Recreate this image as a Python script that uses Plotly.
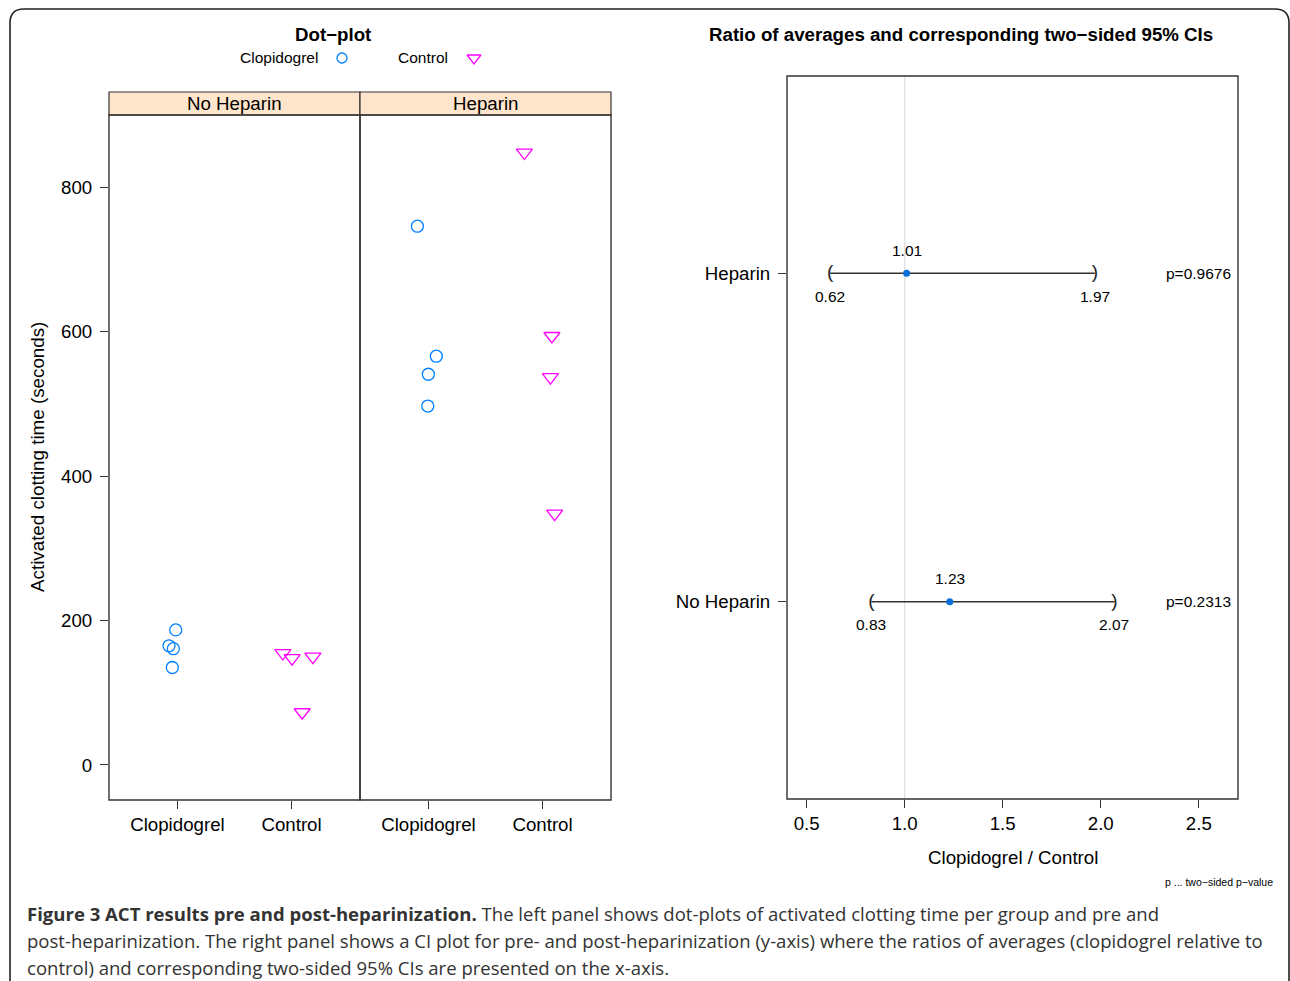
import plotly.graph_objects as go

W, H = 1290, 981

# ---------------- data ----------------
groups = ["Clopidogrel", "Control"]
panels = ["No Heparin", "Heparin"]
y_ticks = [0, 200, 400, 600, 800]

# activated clotting time (seconds) and jittered group positions
nohep_clop_act = [187, 165, 161, 135]
nohep_clop_pos = [0.985, 0.926, 0.964, 0.955]
nohep_ctrl_act = [155, 148, 150, 73]
nohep_ctrl_pos = [1.924, 2.005, 2.187, 2.093]
hep_clop_act = [746, 566, 541, 497]
hep_clop_pos = [0.903, 1.069, 0.999, 0.994]
hep_ctrl_act = [848, 594, 537, 348]
hep_ctrl_pos = [1.841, 2.082, 2.069, 2.106]

ci_rows = ["No Heparin", "Heparin"]
ci_est = [1.23, 1.01]
ci_low = [0.83, 0.62]
ci_up = [2.07, 1.97]
ci_p = ["0.2313", "0.9676"]
x3_ticks = [0.5, 1.0, 1.5, 2.0, 2.5]

# ---------------- styling ----------------
FONT = "Liberation Sans"
BLUE = "#0080ff"
MAG = "#ff00ff"
LINE = "#333333"


def px(x):
    return x / W


def py(y):
    return 1 - y / H


fig = go.Figure()

circ = dict(symbol="circle-open", size=12, color=BLUE, line=dict(width=1.3, color=BLUE))
tri = dict(symbol="triangle-down-open", size=14, color=MAG, line=dict(width=1.3, color=MAG))

fig.add_trace(go.Scatter(x=nohep_clop_pos, y=nohep_clop_act, mode="markers", marker=circ,
                         xaxis="x", yaxis="y", showlegend=False))
fig.add_trace(go.Scatter(x=nohep_ctrl_pos, y=nohep_ctrl_act, mode="markers", marker=tri,
                         xaxis="x", yaxis="y", showlegend=False))
fig.add_trace(go.Scatter(x=hep_clop_pos, y=hep_clop_act, mode="markers", marker=circ,
                         xaxis="x2", yaxis="y", showlegend=False))
fig.add_trace(go.Scatter(x=hep_ctrl_pos, y=hep_ctrl_act, mode="markers", marker=tri,
                         xaxis="x2", yaxis="y", showlegend=False))

# CI plot
row_pos = [1, 2]
for i in range(len(ci_rows)):
    fig.add_trace(go.Scatter(x=[ci_low[i], ci_up[i]], y=[row_pos[i], row_pos[i]], mode="lines",
                             line=dict(color=LINE, width=1.4), xaxis="x3", yaxis="y3",
                             showlegend=False))
fig.add_trace(go.Scatter(x=ci_low, y=row_pos, mode="text", text=["("] * 2,
                         textfont=dict(family=FONT, size=19, color="#222222"), textposition="middle center",
                         xaxis="x3", yaxis="y3", showlegend=False))
fig.add_trace(go.Scatter(x=ci_up, y=row_pos, mode="text", text=[")"] * 2,
                         textfont=dict(family=FONT, size=19, color="#222222"), textposition="middle center",
                         xaxis="x3", yaxis="y3", showlegend=False))
fig.add_trace(go.Scatter(x=ci_est, y=row_pos, mode="markers",
                         marker=dict(symbol="circle", size=7, color="#0a6fd6"),
                         xaxis="x3", yaxis="y3", showlegend=False))

# legend keys on an overlay pixel axis
fig.add_trace(go.Scatter(x=[342], y=[58], mode="markers",
                         marker=dict(symbol="circle-open", size=10, color=BLUE, line=dict(width=1.3, color=BLUE)),
                         xaxis="x4", yaxis="y4", showlegend=False))
fig.add_trace(go.Scatter(x=[474], y=[58], mode="markers",
                         marker=dict(symbol="triangle-down-open", size=12, color=MAG, line=dict(width=1.3, color=MAG)),
                         xaxis="x4", yaxis="y4", showlegend=False))

tickfont = dict(family=FONT, size=18.7, color="black")
common_x = dict(range=[0.4, 2.6], tickvals=[1, 2], ticktext=groups, ticks="outside", ticklen=8,
                tickcolor=LINE, tickwidth=1, showgrid=False, zeroline=False, showline=False,
                tickfont=tickfont, fixedrange=True)

fig.update_layout(
    width=W, height=H,
    margin=dict(l=0, r=0, t=0, b=0),
    paper_bgcolor="white", plot_bgcolor="rgba(0,0,0,0)",
    font=dict(family=FONT, color="black"),
    xaxis=dict(domain=[px(109), px(360)], anchor="y", **common_x),
    xaxis2=dict(domain=[px(360), px(611)], anchor="y", **common_x),
    yaxis=dict(domain=[py(800), py(115)], anchor="x", range=[-48.5, 900], tickvals=y_ticks,
               ticks="outside", ticklen=8, tickcolor=LINE, showgrid=False, zeroline=False,
               showline=False, tickfont=tickfont, ticklabelstandoff=4, fixedrange=True),
    xaxis3=dict(domain=[px(787), px(1238)], anchor="y3", range=[0.4, 2.7], tickvals=x3_ticks,
                ticktext=[f"{v:.1f}" for v in x3_ticks], ticks="outside", ticklen=8, tickcolor=LINE,
                showgrid=False, zeroline=False, showline=False, tickfont=tickfont, fixedrange=True),
    yaxis3=dict(domain=[py(799), py(76)], anchor="x3", range=[0.4, 2.6], tickvals=row_pos,
                ticktext=ci_rows, ticks="outside", ticklen=8, tickcolor=LINE, showgrid=False,
                zeroline=False, showline=False, tickfont=tickfont, ticklabelstandoff=4, fixedrange=True),
    xaxis4=dict(domain=[0, 1], anchor="y4", range=[0, W], visible=False, fixedrange=True),
    yaxis4=dict(domain=[0, 1], anchor="x4", range=[H, 0], visible=False, fixedrange=True),
)

shapes = []
# strips
for x0, x1 in [(109, 360), (360, 611)]:
    shapes.append(dict(type="rect", xref="paper", yref="paper", x0=px(x0), x1=px(x1), y0=py(115), y1=py(92),
                       fillcolor="#ffe5cc", line=dict(color=LINE, width=1.2), layer="above"))
    shapes.append(dict(type="rect", xref="paper", yref="paper", x0=px(x0), x1=px(x1), y0=py(800), y1=py(115),
                       line=dict(color=LINE, width=1.4), layer="above"))
# right plot box
shapes.append(dict(type="rect", xref="paper", yref="paper", x0=px(787), x1=px(1238), y0=py(799), y1=py(76),
                   line=dict(color=LINE, width=1.4), layer="above"))
# reference line at ratio 1
shapes.append(dict(type="line", xref="x3", yref="paper", x0=1, x1=1, y0=py(799), y1=py(76),
                   line=dict(color="#e2e2e2", width=1.5), layer="below"))
# outer rounded frame
r = 14
x0, y0, x1, y1 = 10, 9, 1289, 1000
path = (f"M {px(x0)},{py(y1)} L {px(x0)},{py(y0 + r)} "
        f"Q {px(x0)},{py(y0)} {px(x0 + r)},{py(y0)} "
        f"L {px(x1 - r)},{py(y0)} Q {px(x1)},{py(y0)} {px(x1)},{py(y0 + r)} "
        f"L {px(x1)},{py(y1)}")
shapes.append(dict(type="path", xref="paper", yref="paper", path=path,
                   line=dict(color="#222222", width=1.6)))
fig.update_layout(shapes=shapes)

ann = []


def text_at(x, y, t, size=18, bold=False, xanchor="center", color="black", family=FONT, angle=0):
    ann.append(dict(x=px(x), y=py(y), xref="paper", yref="paper", text=f"<b>{t}</b>" if bold else t,
                    showarrow=False, xanchor=xanchor, yanchor="middle", textangle=angle,
                    font=dict(family=family, size=size, color=color)))


text_at(333, 34, "Dot\u2212plot", size=18.7, bold=True)
text_at(961, 34, "Ratio of averages and corresponding two\u2212sided 95% CIs", size=18.7, bold=True)
text_at(320, 58, "Clopidogrel", size=15.5, xanchor="right")
text_at(450, 58, "Control", size=15.5, xanchor="right")
for name, cx in zip(panels, [234.5, 485.5]):
    text_at(cx, 103.5, name, size=18.7)
text_at(37, 457, "Activated clotting time (seconds)", size=18.8, angle=-90)
text_at(1013, 857, "Clopidogrel / Control", size=18.7)
text_at(1275, 882, "p ... two\u2212sided p\u2212value", size=10.5, xanchor="right")

# CI numeric labels
for i in range(len(ci_rows)):
    for xv, shift in [(ci_est[i], 23), (ci_low[i], -23), (ci_up[i], -23)]:
        ann.append(dict(x=xv, y=row_pos[i], xref="x3", yref="y3", text=f"{xv:.2f}", showarrow=False,
                        yshift=shift, xanchor="center", yanchor="middle",
                        font=dict(family=FONT, size=15.5, color="black")))
    ann.append(dict(x=px(1198), y=row_pos[i], xref="paper", yref="y3", text=f"p={ci_p[i]}",
                    showarrow=False, xanchor="center", yanchor="middle",
                    font=dict(family=FONT, size=15.5, color="black")))

# caption
CAP = "Open Sans"
cap_lines = [
    "<b>Figure 3 ACT results pre and post-heparinization.</b> The left panel shows dot-plots of activated clotting time per group and pre and",
    "post-heparinization. The right panel shows a CI plot for pre- and post-heparinization (y-axis) where the ratios of averages (clopidogrel relative to",
    "control) and corresponding two-sided 95% CIs are presented on the x-axis.",
]
for line, yy in zip(cap_lines, [913, 940, 967]):
    text_at(25, yy, line, size=18.55, xanchor="left", color="#333333", family=CAP)

fig.update_layout(annotations=ann)

fig.write_html("out.html", config={"displayModeBar": False},
               post_script="document.body.style.margin='0';document.body.style.overflow='hidden';")
